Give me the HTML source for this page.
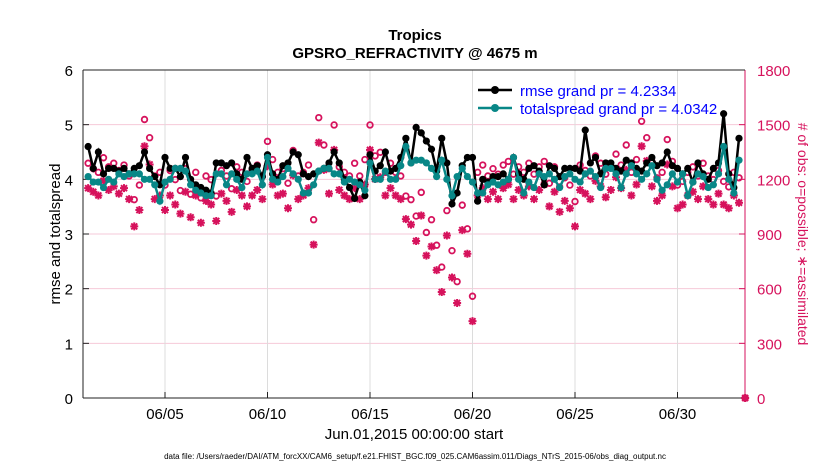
<!DOCTYPE html>
<html><head><meta charset="utf-8"><style>
body{margin:0;background:#fff;}
svg{display:block;font-family:"Liberation Sans",sans-serif;}
</style></head><body>
<svg id="chart" width="830" height="470">
<text x="415" y="40" text-anchor="middle" font-size="15" font-weight="bold">Tropics</text>
<text x="415" y="58" text-anchor="middle" font-size="15" font-weight="bold">GPSRO_REFRACTIVITY @ 4675 m</text>
<g id="grid"></g><g id="axes"></g><g id="marks"></g>
<text transform="translate(60,234) rotate(-90)" text-anchor="middle" font-size="15">rmse and totalspread</text>
<text transform="translate(798,234) rotate(90)" text-anchor="middle" font-size="14" fill="#d6125c"># of obs: o=possible; ∗=assimilated</text>
<text x="414" y="439" text-anchor="middle" font-size="15">Jun.01,2015 00:00:00 start</text>
<text x="415" y="459" text-anchor="middle" font-size="8">data file: /Users/raeder/DAI/ATM_forcXX/CAM6_setup/f.e21.FHIST_BGC.f09_025.CAM6assim.011/Diags_NTrS_2015-06/obs_diag_output.nc</text>
<g>
<line x1="478" y1="90" x2="512" y2="90" stroke="#000" stroke-width="2.5"/><circle cx="495" cy="90" r="4" fill="#000"/>
<text x="520" y="96" font-size="15" fill="#0000ff">rmse grand pr = 4.2334</text>
<line x1="478" y1="108" x2="512" y2="108" stroke="#088787" stroke-width="2.5"/><circle cx="495" cy="108" r="4" fill="#088787"/>
<text x="520" y="114" font-size="15" fill="#0000ff">totalspread grand pr = 4.0342</text>
</g>
</svg>
<script>
const rmse=[4.6,4.2,4.5,4.1,4.2,4.2,4.15,4.2,4.1,4.2,4.25,4.5,4.2,4.05,3.9,4.4,4.2,4.2,4.05,4.4,4.0,3.9,3.85,3.8,3.75,4.3,4.3,4.25,4.3,4.1,4.0,4.4,4.2,4.25,4.05,4.45,4.1,4.0,4.25,4.3,4.5,4.45,4.1,4.05,4.1,4.15,4.2,4.3,4.5,4.3,4.0,3.85,3.65,3.95,3.7,4.45,4.15,4.25,4.5,4.15,4.2,4.4,4.75,4.3,4.95,4.85,4.7,4.55,4.15,4.75,4.3,3.55,3.75,4.25,4.4,4.4,3.6,4.0,3.95,4.05,4.05,4.1,4.0,4.4,4.1,4.0,4.2,4.25,4.15,3.9,4.25,4.2,4.05,4.2,4.2,4.2,4.15,4.9,4.3,4.4,4.1,4.3,4.3,4.2,4.15,4.35,4.3,4.2,4.15,4.3,4.4,4.25,4.3,4.5,4.25,4.2,4.1,4.2,3.95,4.3,4.1,4.0,4.2,4.3,5.2,4.1,3.85,4.75];
const spread=[4.05,3.95,3.95,3.85,4.0,3.95,4.1,4.05,4.1,4.1,4.1,4.0,4.0,3.9,3.6,3.95,4.0,4.2,4.2,4.15,3.9,3.8,3.75,3.7,3.7,4.1,4.1,3.9,4.1,4.0,3.85,4.1,4.1,4.15,3.9,4.4,4.0,3.95,4.05,4.2,4.1,4.0,3.75,3.75,3.9,4.15,4.2,4.2,4.1,4.1,3.95,4.0,3.95,3.9,3.8,4.3,4.0,4.0,4.15,4.0,4.0,4.25,4.6,4.3,4.35,4.35,4.3,4.2,4.05,4.35,4.0,3.7,4.05,4.2,4.05,3.95,3.75,3.75,3.9,3.95,3.9,3.95,4.0,4.4,4.0,3.75,3.95,3.85,4.1,4.05,4.1,4.0,3.85,4.05,4.1,4.0,3.95,4.1,4.15,4.05,3.85,4.2,4.2,4.1,3.85,4.1,4.25,4.1,4.0,4.1,4.25,4.0,3.8,3.9,4.1,3.95,4.1,3.7,3.95,4.1,4.05,3.85,3.9,4.1,4.6,4.0,3.75,4.35];
const possible=[1250,1220,1200,1280,1230,1250,1210,1240,1180,1050,1130,1490,1390,1180,1200,1130,1210,1160,1100,1220,1080,1200,1060,1180,1160,1070,1210,1180,1110,1230,1200,1150,1210,1240,1180,1370,1270,1200,1220,1140,1320,1180,1200,1240,940,1500,1350,1220,1460,1230,1200,1180,1250,1180,1270,1460,1290,1310,1200,1250,1200,1180,1070,1050,960,1090,870,940,800,680,990,770,600,1020,890,520,1200,1240,1180,1220,1190,1240,1260,1190,1230,1200,1250,1190,1230,1260,1140,1230,1120,1170,1130,1040,1240,1210,1180,1290,1250,1190,1230,1300,1240,1350,1200,1270,1480,1390,1260,1170,1200,1380,1260,1130,1150,1200,1230,1180,1250,1180,1160,1210,1150,1120,1200,1170,0];
const assimilated=[1190,1170,1150,1230,1180,1200,1160,1190,1130,980,1070,1420,1320,1130,1150,1070,1150,1100,1050,1170,1030,1150,1000,1120,1100,1010,1160,1120,1060,1180,1150,1090,1150,1180,1130,1310,1210,1150,1160,1080,1260,1130,1150,1190,880,1440,1290,1160,1400,1180,1150,1130,1190,1130,1210,1400,1240,1250,1150,1190,1150,1130,1020,990,900,1040,820,870,740,620,930,700,560,960,830,460,1150,1190,1130,1170,1130,1190,1210,1130,1180,1150,1200,1130,1180,1210,1090,1170,1060,1120,1080,980,1180,1160,1130,1230,1200,1140,1180,1250,1190,1290,1150,1210,1420,1340,1200,1120,1150,1320,1200,1080,1100,1150,1170,1130,1200,1130,1100,1160,1100,1080,1150,1110,0];
const xTickLabels=["06/05","06/10","06/15","06/20","06/25","06/30"];
const xTickDays=[4,9,14,19,24,29];
const leftTicks=[0,1,2,3,4,5,6];
const rightTicks=[0,300,600,900,1200,1500,1800];

const L=83,R=745,T=70,B=398,NS="http://www.w3.org/2000/svg";
const xs=t=>L+t*20.5;
const yl=v=>B-v/6*(B-T);
const yr=v=>B-v/1800*(B-T);
const tOf=i=>0.25*(i+1);
function mk(tag,attrs,parent){const e=document.createElementNS(NS,tag);for(const k in attrs)e.setAttribute(k,attrs[k]);parent.appendChild(e);return e;}
const grid=document.getElementById('grid'),axes=document.getElementById('axes'),marks=document.getElementById('marks');
mk('rect',{x:L,y:T,width:R-L,height:B-T,fill:'#fff'},grid);
leftTicks.forEach(v=>{
 const g=mk('line',{x1:L,x2:R,y1:yl(v),y2:yl(v),stroke:'#f6c9d8','stroke-width':1},grid);
 
 
 const t=mk('text',{x:L-10,y:yl(v)+6,'text-anchor':'end','font-size':15},axes);t.textContent=v;
 
 
 mk('line',{x1:L,x2:L+6,y1:yl(v),y2:yl(v),stroke:'#222'},axes);
});
rightTicks.forEach(v=>{
 const t=mk('text',{x:R+12,y:yr(v)+6,'font-size':15,fill:'#d6125c'},axes);t.textContent=v;
 
 
 mk('line',{x1:R-6,x2:R,y1:yr(v),y2:yr(v),stroke:'#d6125c'},axes);
});
xTickDays.forEach((d,i)=>{
 const g=mk('line',{x1:xs(d),x2:xs(d),y1:T,y2:B,stroke:'#dcdcdc'},grid);
 
 
 mk('line',{x1:xs(d),x2:xs(d),y1:B-6,y2:B,stroke:'#222'},axes);
 const t=mk('text',{x:xs(d),y:B+21,'text-anchor':'middle','font-size':15},axes);t.textContent=xTickLabels[i];
 
 
});
mk('line',{x1:L,x2:R,y1:B,y2:B,stroke:'#222'},axes);
mk('line',{x1:L,x2:L,y1:T,y2:B,stroke:'#222'},axes);
mk('line',{x1:R,x2:R,y1:T,y2:B,stroke:'#d6125c'},axes);
mk('line',{x1:L,x2:R,y1:T,y2:T,stroke:'#222'},axes);

const last=possible.length-1;
possible.forEach((v,i)=>{
 const t=i<last?tOf(i):32.3;
 const off=i<last?7:0;
 const c=mk('circle',{cx:xs(t),cy:yr(v)-off,r:2.8,fill:'none',stroke:'#d6125c','stroke-width':1.8},marks);
 
 
});
assimilated.forEach((v,i)=>{
 const t=i<last?tOf(i):32.3;
 const off=i<last?7:0;
 const x=xs(t),y=yr(v)+off;
 const g=mk('path',{d:`M${x-4} ${y}H${x+4}M${x} ${y-4}V${y+4}M${x-3} ${y-3}L${x+3} ${y+3}M${x-3} ${y+3}L${x+3} ${y-3}`,stroke:'#d6125c','stroke-width':2},marks);
 
 
});
function series(arr,color,name){
 const p=mk('polyline',{points:arr.map((v,i)=>xs(tOf(i))+','+yl(v)).join(' '),fill:'none',stroke:color,'stroke-width':2.5},marks);
 
 
 arr.forEach((v,i)=>{
  const c=mk('circle',{cx:xs(tOf(i)),cy:yl(v),r:3.6,fill:color},marks);
  
  
 });
}
series(rmse,'#000','rmse');
series(spread,'#088787','totalspread');
</script>
</body></html>
